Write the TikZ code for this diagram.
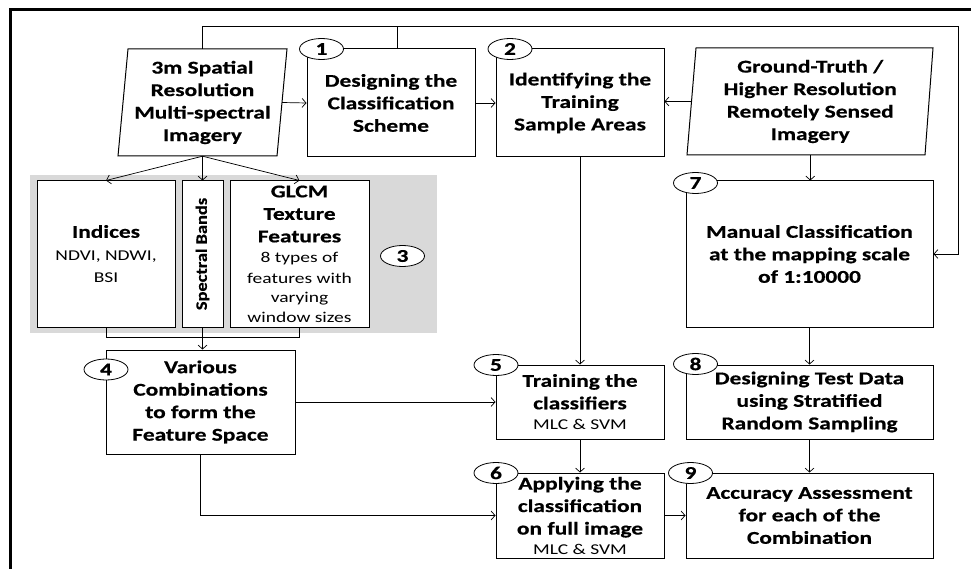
\documentclass[tikz,border=0pt]{standalone}
\usepackage{fontspec}
\setmainfont{Carlito}[FakeStretch=1.3, BoldFeatures={FakeBold=0.6}]
\newfontfamily\plainfont{Carlito}[BoldFeatures={FakeBold=0.6}]
\usetikzlibrary{arrows.meta,shapes.geometric}
\newcommand{\bft}{\bfseries\fontsize{18}{22.5}\selectfont}
\newcommand{\rgt}{\normalfont\fontsize{15}{19.5}\selectfont}
\begin{document}
\begin{tikzpicture}[x=1pt,y=-1pt,
  box/.style={draw, line width=1pt, fill=white, inner sep=0pt, align=center, font=\bft},
  para/.style={inner sep=0pt, align=center, font=\bft},
  num/.style={draw, ellipse, fill=white, line width=0.8pt, minimum width=44pt, minimum height=21pt, inner sep=0pt, font=\bfseries\fontsize{18}{20}\selectfont},
  arr/.style={-{Straight Barb[length=4pt,width=9pt]}, line width=0.7pt},
  ln/.style={line width=0.7pt},
]
\useasboundingbox (0,0) rectangle (971,569);
% outer frame
\draw[line width=3pt] (10,569) -- (10,9.5) -- (971,9.5);
% gray band
\fill[gray!30] (30,175) rectangle (437,333);
% parallelograms
\node[para, minimum width=159pt, minimum height=107pt] (im) at (202.5,102.5) {3m Spatial\\Resolution\\Multi-spectral\\Imagery};
\draw[line width=1pt] (128,49) -- (287,49) -- (277,156) -- (118,156) -- cycle;
\node[para, minimum width=237.5pt, minimum height=107pt] (gt) at (810.25,101.5) {Ground-Truth /\\Higher Resolution\\Remotely Sensed\\Imagery};
\draw[line width=1pt] (696,48) -- (933,48) -- (925,155) -- (687,155) -- cycle;
% boxes
\node[box, minimum width=168pt, minimum height=108pt] (b1) at (391,103) {Designing the\\Classification\\Scheme};
\node[box, minimum width=168pt, minimum height=108pt] (b2) at (580,103) {Identifying the\\Training\\Sample Areas};
\node[box, minimum width=138pt, minimum height=146pt] (ind) at (106,254) {Indices\\{\rgt NDVI, NDWI,}\\{\rgt BSI}};
\node[box, minimum width=41pt, minimum height=146pt] (spec) at (202.5,254) {};
\node[rotate=90, inner sep=0pt, font=\plainfont\bfseries\fontsize{16}{18}\selectfont] at (spec.center) {\scalebox{1.15}[1]{Spectral Bands}};
\node[box, minimum width=139pt, minimum height=146pt] (glcm) at (299.5,254) {GLCM\\Texture\\Features\\[-2pt]{\rgt 8 types of}\\[-2pt]{\rgt features with}\\[-3pt]{\rgt varying}\\[-3pt]{\rgt window sizes}};
\node[box, minimum width=247pt, minimum height=146pt] (b7) at (809.5,254) {Manual Classification\\at the mapping scale\\of 1:10000};
\node[box, minimum width=189pt, minimum height=104pt] (b4) at (200.5,402) {Various\\Combinations\\ to form the\\Feature Space};
\node[box, minimum width=168pt, minimum height=74pt] (b5) at (580,402) {Training the\\classifiers\\[-2pt]{\rgt MLC \& SVM}};
\node[box, minimum width=247pt, minimum height=74pt] (b8) at (809.5,402) {Designing Test Data\\using Stratified\\Random Sampling};
\node[box, minimum width=168pt, minimum height=85pt] (b6) at (580,515.5) {Applying the\\classification\\on full image\\[-3pt]{\rgt MLC \& SVM}};
\node[box, minimum width=247pt, minimum height=85pt] (b9) at (809.5,515.5) {Accuracy Assessment\\for each of the\\Combination};
% connectors
\coordinate (lt) at (958,26);
\draw[arr] (im.north) |- (lt) |- (b7.east);
\draw[ln] ([xshift=6pt]b1.north) -- ([xshift=6pt]b1.north |- lt);
\draw[arr] (im.east) -- (b1.west);
\draw[arr] (b1.east) -- (b2.west);
\draw[arr] (gt.west) -- (gt.west -| b2.east);
\draw[arr] (gt.south) -- (gt.south |- b7.north);
\draw[arr] (im.south) -- (ind.north);
\draw[arr] (im.south) -- (im.south |- spec.north);
\draw[arr] (im.south) -- (glcm.north);
\coordinate (mj) at (202.5,337);
\draw[ln] (ind.south) |- (glcm.south |- mj) -- (glcm.south);
\draw[arr] (spec.south) -- (spec.south |- b4.north);
\draw[arr] (b4.east) -- (b4.east -| b5.west);
\draw[arr] (b4.south) |- (b6.west);
\draw[arr] (b2.south) -- (b5.north);
\draw[arr] (b5.south) -- (b6.north);
\draw[arr] (b7.south) -- (b8.north);
\draw[arr] (b8.south) -- (b9.north);
\draw[arr] (b6.east) -- (b9.west);
% numbers
\node[num] (n1) at (321.5,49) {1};
\node[num] (n2) at (510,49) {2};
\node[num] (n3) at (402.5,256) {3};
\node[num] (n4) at (106,369.5) {4};
\node[num] (n5) at (496,365) {5};
\node[num] (n6) at (496,473) {6};
\node[num] (n7) at (695.5,183) {7};
\node[num] (n8) at (695.5,364) {8};
\node[num] (n9) at (690.5,473) {9};
\end{tikzpicture}
\end{document}
